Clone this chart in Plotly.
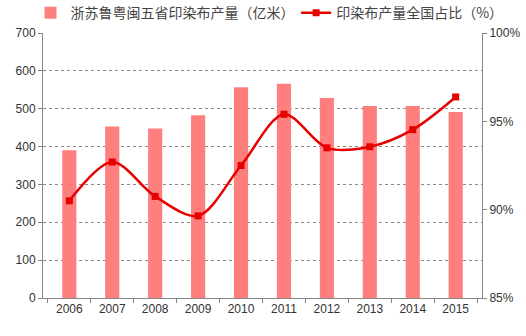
import plotly.graph_objects as go

years = ["2006", "2007", "2008", "2009", "2010", "2011", "2012", "2013", "2014", "2015"]
output_5prov = [390, 453, 448, 483, 557, 566, 528, 507, 507, 491]        # 亿米
national_share = [0.905, 0.927, 0.9075, 0.8965, 0.925, 0.954, 0.935, 0.9356, 0.9453, 0.9638]

left_ticks = [0, 100, 200, 300, 400, 500, 600, 700]
right_ticks = [0.85, 0.90, 0.95, 1.00]

font_family = "Liberation Sans, Arial, Noto Sans CJK SC"
grey = "#868686"
legend_font = dict(family="Noto Sans CJK SC", size=14, color="#444444")

fig = go.Figure()
fig.add_trace(go.Bar(
    x=years, y=output_5prov, name="浙苏鲁粤闽五省印染布产量（亿米）",
    marker=dict(color="#ff7f7f", line=dict(width=0)), width=0.33, legend="legend",
))
fig.add_trace(go.Scatter(
    x=years, y=national_share, name="印染布产量全国占比（%）", yaxis="y2",
    mode="lines+markers", line=dict(color="#e60000", width=2.5, shape="spline", smoothing=0.9),
    marker=dict(symbol="square", size=7, color="#e60000"), legend="legend2",
))

fig.update_layout(
    width=526, height=336,
    margin=dict(l=43, r=44, t=33, b=38, autoexpand=False),
    paper_bgcolor="white", plot_bgcolor="white",
    font=dict(family=font_family, size=12, color="#333333"),
    showlegend=True,
    legend=dict(orientation="h", xref="container", yref="container", x=0.058, xanchor="left",
                y=0.961, yanchor="middle", font=legend_font, itemwidth=30,
                bgcolor="rgba(0,0,0,0)"),
    legend2=dict(orientation="h", xref="container", yref="container", x=0.563, xanchor="left",
                 y=0.961, yanchor="middle", font=legend_font, itemwidth=30,
                 bgcolor="rgba(0,0,0,0)"),
    bargap=0.67,
    xaxis=dict(type="category", showline=True, linecolor=grey, linewidth=1,
               ticks="outside", tickson="boundaries", ticklen=4, tickcolor=grey,
               showgrid=False, tickfont=dict(size=12, color="#333333")),
    yaxis=dict(range=[0, 700], tickvals=left_ticks, showline=True, linecolor=grey, linewidth=1,
               ticks="outside", ticklen=4, tickcolor=grey,
               showgrid=True, gridcolor="#8a8a8a", griddash="dot", gridwidth=1,
               zeroline=False, tickfont=dict(size=12, color="#333333")),
    yaxis2=dict(range=[0.85, 1.00], tickvals=right_ticks, tickformat=".0%", overlaying="y", side="right",
                showline=True, linecolor=grey, linewidth=1, ticks="outside", ticklen=4, tickcolor=grey,
                showgrid=False, zeroline=False, tickfont=dict(size=12, color="#333333")),
)

fig.write_html("out.html")
